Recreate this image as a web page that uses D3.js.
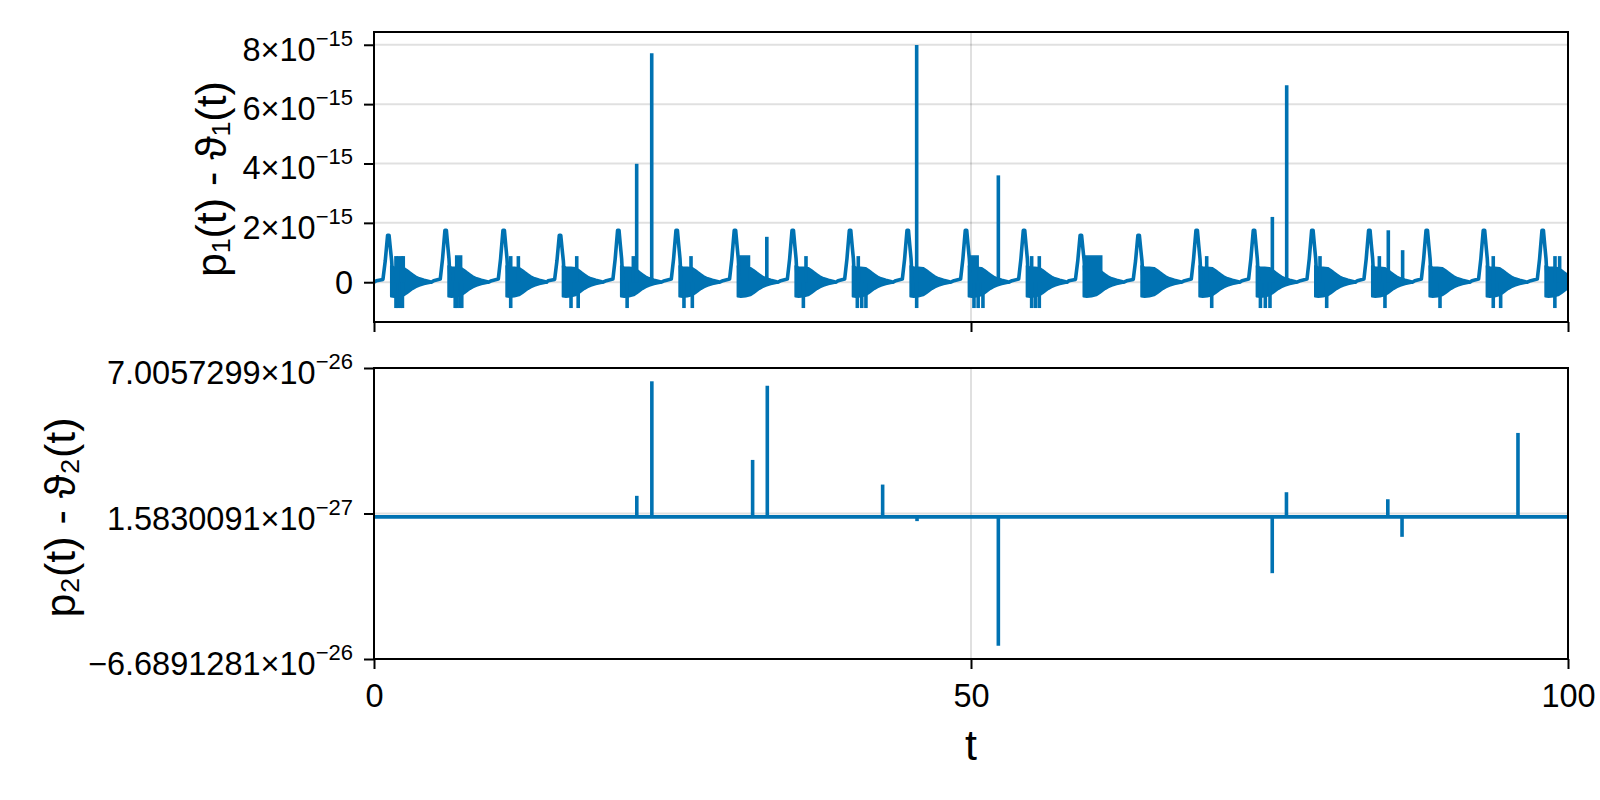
<!DOCTYPE html>
<html><head><meta charset="utf-8">
<script src="https://cdn.jsdelivr.net/npm/d3@7"></script>
<style>
body{margin:0;background:#fff}
svg{display:block}
text{font-family:"Liberation Sans", Arial, "DejaVu Sans", sans-serif;fill:#000}
</style>
</head><body>
<svg id="c" width="1600" height="800"></svg>
<script>
// ---------------- data ----------------
const xTicks = [0, 50, 100];
const xTickLabels = ["0", "50", "100"];
const topYTicks = [0, 2e-15, 4e-15, 6e-15, 8e-15];
const topYTickLabels = ["0", "2×10^−15", "4×10^−15", "6×10^−15", "8×10^−15"];
const botYTicks = [-6.6891281e-26, 1.5830091e-27, 7.0057299e-26];
const botYTickLabels = ["−6.6891281×10^−26", "1.5830091×10^−27", "7.0057299×10^−26"];
const topYDomain = [-1.34e-15, 8.43e-15];
const botYDomain = [-6.6891281e-26, 7.0057299e-26];

// top series: periodic pulses (values in units of 1e-15)
const peakT = [1.20, 6.00, 10.86, 15.58, 20.46, 25.35, 30.23, 35.07, 39.87, 44.70, 49.58,
               54.44, 59.20, 64.04, 68.90, 73.70, 78.59, 83.36, 88.17, 92.96, 97.88];
const peakV = [1.585, 1.75, 1.75, 1.585, 1.75, 1.75, 1.75, 1.75, 1.75, 1.75, 1.75,
               1.75, 1.585, 1.585, 1.75, 1.75, 1.75, 1.75, 1.75, 1.75, 1.75];
// shape of one pulse (offset from peak, fraction of peak height)
const pulseOffset = [-1.0, -0.45, -0.26, -0.06, 0.06, 0.17, 0.28, 0.38];
const pulseFrac   = [0.03, 0.06, 0.45, 1.0, 1.0, 0.72, 0.45, 0.0];
// envelope of the ringing after a pulse (offset from peak, upper, lower)
const ringOffset = [0.22, 0.50, 0.90, 1.30, 1.55, 1.80, 2.05, 2.30, 2.60, 3.00, 3.50];
const ringUpper  = [0.55, 0.50, 0.50, 0.48, 0.42, 0.34, 0.27, 0.20, 0.14, 0.09, 0.04];
const ringLower  = [-0.48, -0.50, -0.48, -0.44, -0.38, -0.30, -0.23, -0.17, -0.12, -0.07, -0.03];
// isolated upward spikes
const upSpikeT = [1.84, 2.04, 2.32, 2.45, 11.45, 12.09, 16.98, 21.72, 22.00, 23.26, 26.55, 32.90,
                  36.18, 40.56, 45.45, 52.29, 55.08, 55.72, 69.74, 75.24, 76.44, 79.23, 84.20,
                  84.95, 86.15, 93.74, 98.91, 99.30];
const upSpikeV = [0.88, 0.88, 0.88, 0.88, 0.88, 0.88, 0.88, 0.88, 3.99, 7.71, 0.88, 1.53,
                  0.88, 0.88, 7.99, 3.60, 0.88, 0.88, 0.88, 2.20, 6.64, 0.88, 0.88,
                  1.75, 1.08, 0.88, 0.88, 0.88];
// isolated downward spikes
const downSpikeT = [1.84, 2.00, 2.20, 2.38, 6.80, 6.95, 7.20, 7.35, 11.45, 16.50, 17.10, 21.20,
                    25.96, 26.66, 35.96, 40.48, 40.85, 41.20, 45.45, 50.25, 50.60, 51.00,
                    55.08, 55.40, 55.72, 70.16, 74.24, 74.65, 75.04, 79.79, 84.67, 89.28,
                    93.74, 94.36, 98.90];
const downSpikeV = downSpikeT.map(() => -0.87);
// dense blocks reaching the +0.88 level
const blockStart = [6.84, 30.65, 49.92, 59.55];
const blockEnd   = [7.34, 31.45, 50.60, 60.95];
const blockTop   = [0.88, 0.88, 0.88, 0.88];

// bottom series (values in units of 1e-26)
const botSpikeT = [22.01, 23.27, 31.71, 32.94, 42.60, 45.48, 52.29, 75.23, 76.42, 84.91, 86.10, 95.81];
const botSpikeV = [0.99, 6.38, 2.68, 6.17, 1.52, -0.20, -6.06, -2.65, 1.16, 0.83, -0.94, 3.95];

// ---------------- layout ----------------
const BLUE = "#0072b2";
const LW = 3.6;
const L = 374, R = 1568;
const topY0 = 32, topY1 = 322;
const botY0 = 368, botY1 = 659;
const TICK_FS = 32.5, EXP_FS = 22, LABEL_FS = 43;

const svg = d3.select("#c");
const x = d3.scaleLinear().domain([0, 100]).range([L, R]);
const yT = d3.scaleLinear().domain(topYDomain).range([topY1, topY0]);
const yB = d3.scaleLinear().domain(botYDomain).range([botY1, botY0]);

const defs = svg.append("defs");
defs.append("clipPath").attr("id", "clipTop").append("rect")
  .attr("x", L).attr("y", topY0).attr("width", R - L).attr("height", topY1 - topY0);
defs.append("clipPath").attr("id", "clipBot").append("rect")
  .attr("x", L).attr("y", botY0).attr("width", R - L).attr("height", botY1 - botY0);

function grid(y, yticks, y0, y1) {
  const g = svg.append("g").attr("stroke", "rgba(0,0,0,0.12)").attr("stroke-width", 2);
  g.selectAll("line.h").data(yticks).join("line")
    .attr("x1", L).attr("x2", R).attr("y1", d => y(d)).attr("y2", d => y(d));
  g.selectAll("line.v").data(xTicks).join("line")
    .attr("x1", d => x(d)).attr("x2", d => x(d)).attr("y1", y0).attr("y2", y1);
}
grid(yT, topYTicks, topY0, topY1);
grid(yB, botYTicks, botY0, botY1);

// ---------- top data ----------
const E = 1e-15;
const gT = svg.append("g").attr("clip-path", "url(#clipTop)");
const lineT = d3.line().x(d => x(d[0])).y(d => yT(d[1] * E));
const areaT = d3.area().x(d => x(d[0])).y0(d => yT(d[2] * E)).y1(d => yT(d[1] * E));

// ringing bands
peakT.forEach((tp) => {
  const band = ringOffset.map((o, j) => [tp + o, ringUpper[j], ringLower[j]]);
  gT.append("path").attr("d", areaT(band)).attr("fill", BLUE)
    .attr("stroke", BLUE).attr("stroke-width", 2).attr("stroke-linejoin", "round");
});
// blocks
blockStart.forEach((s, i) => {
  gT.append("path").attr("d", areaT([[s, blockTop[i], 0], [blockEnd[i], blockTop[i], 0]]))
    .attr("fill", BLUE).attr("stroke", BLUE).attr("stroke-width", 1.5);
});
// main trace through pulses
const trace = [[0, 0]];
peakT.forEach((tp, i) => {
  pulseOffset.forEach((o, j) => trace.push([tp + o, pulseFrac[j] * peakV[i]]));
  trace.push([tp + 3.6, 0]);
});
trace.push([100, 0]);
gT.append("path").attr("d", lineT(trace)).attr("fill", "none")
  .attr("stroke", BLUE).attr("stroke-width", LW).attr("stroke-linejoin", "round");
// spikes
upSpikeT.forEach((t, i) => {
  gT.append("path").attr("d", lineT([[t, 0], [t, upSpikeV[i]]]))
    .attr("stroke", BLUE).attr("stroke-width", LW).attr("fill", "none");
});
downSpikeT.forEach((t, i) => {
  gT.append("path").attr("d", lineT([[t, 0], [t, downSpikeV[i]]]))
    .attr("stroke", BLUE).attr("stroke-width", LW).attr("fill", "none");
});

// ---------- bottom data ----------
const E2 = 1e-26;
const gB = svg.append("g").attr("clip-path", "url(#clipBot)");
const lineB = d3.line().x(d => x(d[0])).y(d => yB(d[1] * E2));
gB.append("path").attr("d", lineB([[0, 0], [100, 0]])).attr("stroke", BLUE)
  .attr("stroke-width", LW).attr("fill", "none");
botSpikeT.forEach((t, i) => {
  gB.append("path").attr("d", lineB([[t, 0], [t, botSpikeV[i]]]))
    .attr("stroke", BLUE).attr("stroke-width", LW).attr("fill", "none");
});

// ---------- frames / axes ----------
function frame(y0, y1) {
  svg.append("rect").attr("x", L).attr("y", y0).attr("width", R - L).attr("height", y1 - y0)
    .attr("fill", "none").attr("stroke", "#000").attr("stroke-width", 2);
}
frame(topY0, topY1);
frame(botY0, botY1);

function styleAxis(g) {
  g.select(".domain").remove();
  g.selectAll(".tick line").attr("stroke", "#000").attr("stroke-width", 2);
}
function supLabel(sel, labels, yBase, yBaseExp) {
  sel.each(function (d, i) {
    const t = d3.select(this);
    t.text(null).attr("dy", null).attr("font-size", TICK_FS).attr("fill", "#000");
    const parts = labels[i].split("^");
    if (parts.length === 1) {
      t.attr("y", yBase);
      t.append("tspan").text(parts[0]);
    } else {
      t.attr("y", yBaseExp);
      t.append("tspan").text(parts[0]);
      t.append("tspan").attr("font-size", EXP_FS).attr("dy", -15).text(parts[1]);
    }
  });
}
// top y axis
const axTY = svg.append("g").attr("transform", `translate(${L},0)`)
  .call(d3.axisLeft(yT).tickValues(topYTicks).tickSizeInner(10).tickSizeOuter(0).tickPadding(11));
styleAxis(axTY);
axTY.selectAll(".tick text").call(supLabel, topYTickLabels, 11.5, 15.5);
// top x axis (ticks only)
const axTX = svg.append("g").attr("transform", `translate(0,${topY1})`)
  .call(d3.axisBottom(x).tickValues(xTicks).tickSizeInner(10).tickSizeOuter(0).tickFormat(""));
styleAxis(axTX);
// bottom y axis
const axBY = svg.append("g").attr("transform", `translate(${L},0)`)
  .call(d3.axisLeft(yB).tickValues(botYTicks).tickSizeInner(10).tickSizeOuter(0).tickPadding(11));
styleAxis(axBY);
axBY.selectAll(".tick text").call(supLabel, botYTickLabels, 11.5, 15.5);
// bottom x axis
const axBX = svg.append("g").attr("transform", `translate(0,${botY1})`)
  .call(d3.axisBottom(x).tickValues(xTicks).tickSizeInner(10).tickSizeOuter(0)
    .tickFormat((d, i) => xTickLabels[i]));
styleAxis(axBX);
axBX.selectAll(".tick text").attr("dy", null).attr("y", 47.5).attr("font-size", TICK_FS).attr("fill", "#000");

// axis labels
svg.append("text").attr("transform", `translate(226,${(topY0 + topY1) / 2 + 2}) rotate(-90)`)
  .attr("text-anchor", "middle").attr("font-size", LABEL_FS).text("p₁(t) - ϑ₁(t)");
svg.append("text").attr("transform", `translate(75,${(botY0 + botY1) / 2 + 4}) rotate(-90)`)
  .attr("text-anchor", "middle").attr("font-size", LABEL_FS).text("p₂(t) - ϑ₂(t)");
svg.append("text").attr("x", (L + R) / 2).attr("y", 760)
  .attr("text-anchor", "middle").attr("font-size", LABEL_FS).text("t");
</script>
</body></html>
